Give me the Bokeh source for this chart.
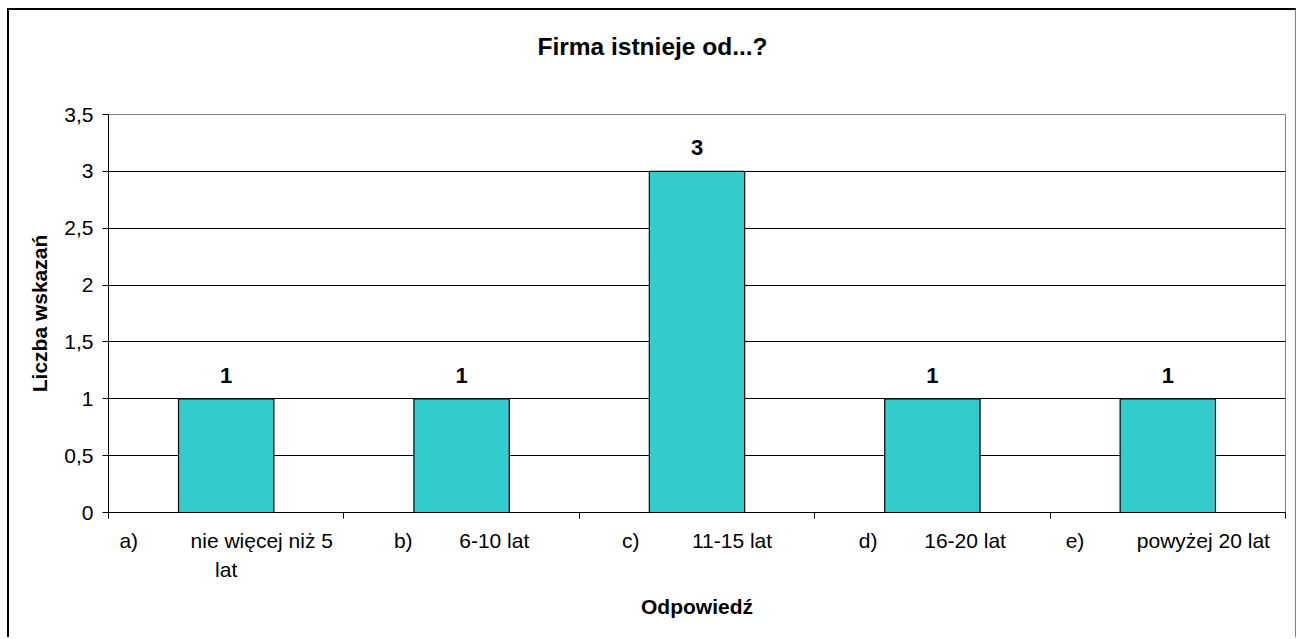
from bokeh.plotting import figure
from bokeh.models import FixedTicker, Range1d, Title
from bokeh.core.properties import value
from bokeh.embed import file_html
from bokeh.resources import INLINE

# ---- data ----
letters = ["a)", "b)", "c)", "d)", "e)"]
answers = ["nie więcej niż 5\nlat", "6-10 lat", "11-15 lat", "16-20 lat", "powyżej 20 lat"]
counts = [1, 1, 3, 1, 1]
y_ticks = [0, 0.5, 1, 1.5, 2, 2.5, 3, 3.5]
y_tick_labels = ["0", "0,5", "1", "1,5", "2", "2,5", "3", "3,5"]
title_text = "Firma istnieje od...?"
x_title = "Odpowiedź"
y_title = "Liczba wskazań"

FONT = "Liberation Sans"
tab_widths = [9, 8, 9, 8, 9]  # tab-like gap (non-breaking spaces) between letter and answer

n = len(counts)
centers = [i + 0.5 for i in range(n)]
bounds = [i for i in range(n + 1)]

p = figure(width=1289, height=629, output_backend="svg", toolbar_location=None,
           x_range=Range1d(0, n), y_range=Range1d(0, 3.5),
           min_border_left=99, min_border_right=13, min_border_top=104, min_border_bottom=127)
p.styles = {"margin-left": "7px", "margin-top": "8px",
            "border-left": "2px solid black", "border-top": "2px solid black",
            "border-right": "1px solid #808080"}
p.background_fill_color = "white"
p.border_fill_color = "white"
p.outline_line_color = "#808080"
p.outline_line_width = 1

# main title (outermost) and an invisible spacer between it and the frame
p.title = Title(text=title_text, align="left", offset=429,
                text_font=FONT, text_font_size="24.5px", text_font_style="bold",
                text_color="black", standoff=0)
p.add_layout(Title(text="\u00a0", text_font_size="10px", standoff=42), "above")

# bars
p.vbar(x=centers, top=counts, width=0.405, fill_color="#33CCCC", line_color="black", line_width=1.2)

# data labels
p.text(x=centers, y=counts, text=[str(c) for c in counts], text_align="center",
       text_baseline="bottom", y_offset=-16, text_font=value(FONT), text_font_size="22px",
       text_font_style="bold", text_color="black")

# y axis
ya = p.yaxis[0]
ya.ticker = FixedTicker(ticks=y_ticks)
ya.major_label_overrides = {t: l for t, l in zip(y_ticks, y_tick_labels)}
ya.major_label_text_font = FONT
ya.major_label_text_font_size = "21px"
ya.major_label_text_color = "black"
ya.major_tick_out = 6
ya.major_tick_in = 0
ya.minor_tick_line_color = None
ya.major_label_standoff = 9
ya.axis_line_color = "black"
ya.major_tick_line_color = "black"
ya.axis_label = y_title
ya.axis_label_text_font = FONT
ya.axis_label_text_font_size = "21px"
ya.axis_label_text_font_style = "bold"
ya.axis_label_text_color = "black"
ya.axis_label_standoff = 10

# x axis
xa = p.xaxis[0]
xa.ticker = FixedTicker(ticks=centers, minor_ticks=bounds)
xa.major_label_overrides = {c: f"{l}{chr(160) * g}{a}"
                            for c, l, g, a in zip(centers, letters, tab_widths, answers)}
xa.major_label_text_font = FONT
xa.major_label_text_font_size = "21px"
xa.major_label_text_color = "black"
xa.major_label_text_line_height = 1.3
xa.major_tick_line_color = None
xa.major_tick_out = 0
xa.major_tick_in = 0
xa.minor_tick_out = 6
xa.minor_tick_in = 0
xa.minor_tick_line_color = "black"
xa.major_label_standoff = 10
xa.axis_line_color = "black"
xa.axis_label = x_title
xa.axis_label_text_font = FONT
xa.axis_label_text_font_size = "21px"
xa.axis_label_text_font_style = "bold"
xa.axis_label_text_color = "black"
xa.axis_label_standoff = 11

# grid
p.xgrid.visible = False
p.ygrid[0].ticker = FixedTicker(ticks=y_ticks[1:-1])
p.ygrid.grid_line_color = "black"
p.ygrid.grid_line_width = 1

open("out.html", "w").write(file_html(p, INLINE))
